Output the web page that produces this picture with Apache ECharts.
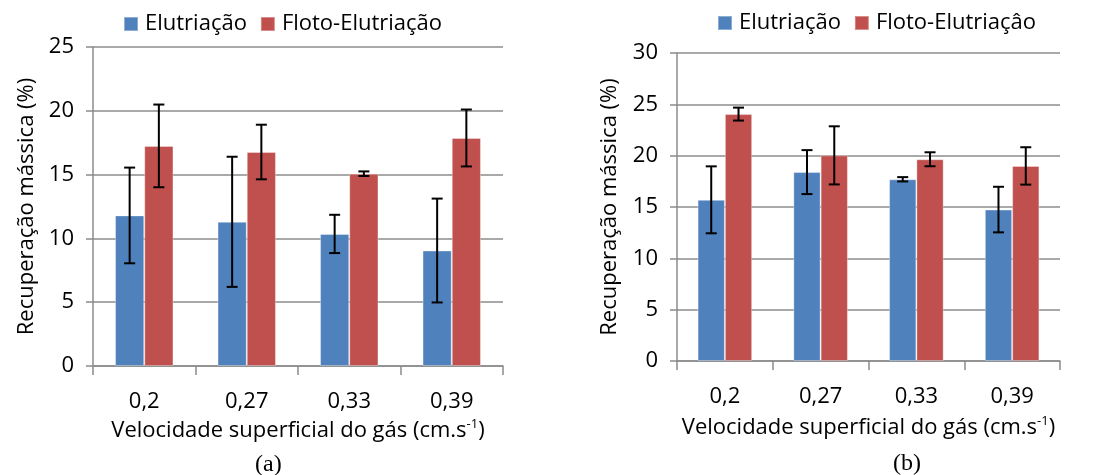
<!DOCTYPE html>
<html><head><meta charset="utf-8">
<script src="https://cdn.jsdelivr.net/npm/echarts@6/dist/echarts.min.js"></script>
<style>html,body{margin:0;padding:0;background:#fff}#c{width:1100px;height:475px}</style>
</head><body><div id="c"></div>
<script>
const categories = ['0,2', '0,27', '0,33', '0,39'];
const elutA = [11.8, 11.3, 10.35, 9.05];
const elutAErr = [3.75, 5.1, 1.5, 4.07];
const flotoA = [17.25, 16.77, 15.07, 17.87];
const flotoAErr = [3.24, 2.14, 0.18, 2.23];
const elutB = [15.7, 18.4, 17.7, 14.75];
const elutBErr = [3.26, 2.14, 0.21, 2.22];
const flotoB = [24.05, 20.03, 19.65, 19.0];
const flotoBErr = [0.63, 2.83, 0.68, 1.82];
const yMaxA = 25, yMaxB = 30, yStep = 5;
const nameElut = 'Elutriação';
const nameFlotoA = 'Floto-Elutriação';
const nameFlotoB = 'Floto-Elutriaçâo';
const xTitle = 'Velocidade superficial do gás (cm.s';
const yTitle = 'Recuperação mássica (%)';

const FONT = 'Open Sans';
const BLUE = '#4F81BD', RED = '#C0504D', GRID = '#8c8c8c';
const CAT_GAP = 0.43;

function errSeries(xi, yi, vals, errs, side) {
  return {
    type: 'custom', xAxisIndex: xi, yAxisIndex: yi, silent: true, z: 10,
    data: vals.map((v, i) => [i, v, errs[i]]),
    encode: { x: 0, y: 1 },
    renderItem: function (params, api) {
      const i = api.value(0), v = api.value(1), e = api.value(2);
      const catW = api.size([1, 0])[0];
      const barW = catW * (1 - CAT_GAP) / 2;
      const top = api.coord([i, v + e]);
      const bot = api.coord([i, v - e]);
      const cx = top[0] + side * barW / 2;
      const cap = 5.5;
      const st = { stroke: '#000', lineWidth: 2 };
      return { type: 'group', children: [
        { type: 'line', shape: { x1: cx, y1: top[1], x2: cx, y2: bot[1] }, style: st },
        { type: 'line', shape: { x1: cx - cap, y1: top[1], x2: cx + cap, y2: top[1] }, style: st },
        { type: 'line', shape: { x1: cx - cap, y1: bot[1], x2: cx + cap, y2: bot[1] }, style: st }
      ]};
    }
  };
}

function xAx(gi, gap) {
  return {
    type: 'category', gridIndex: gi, data: categories,
    axisLine: { lineStyle: { color: GRID, width: 1.5 } },
    axisTick: { show: true, alignWithLabel: false, length: 9, lineStyle: { color: GRID, width: 1.5 } },
    axisLabel: { color: '#000', fontFamily: FONT, fontSize: 22, margin: 25 },
    name: '{t|' + xTitle + '}{s|-1}{t|)}', nameLocation: 'middle', nameGap: gap,
    nameTextStyle: { rich: {
      t: { fontFamily: FONT, fontSize: 22, color: '#000', lineHeight: 26 },
      s: { fontFamily: FONT, fontSize: 13, color: '#000', verticalAlign: 'top', lineHeight: 14 }
    } }
  };
}
function yAx(gi, max, gap) {
  return {
    type: 'value', gridIndex: gi, min: 0, max: max, interval: yStep,
    axisLine: { show: true, lineStyle: { color: GRID, width: 1.5 } },
    axisTick: { show: true, length: 7, lineStyle: { color: GRID, width: 1.5 } },
    splitLine: { lineStyle: { color: GRID, width: 1.5 } },
    axisLabel: { color: '#000', fontFamily: FONT, fontSize: 22, margin: 19 },
    name: yTitle, nameLocation: 'middle', nameGap: gap, nameRotate: 90,
    nameTextStyle: { fontFamily: FONT, fontSize: 22, color: '#000' }
  };
}
function barS(xi, yi, name, data, color) {
  return { type: 'bar', name: name, xAxisIndex: xi, yAxisIndex: yi, data: data,
    barGap: '0%', barCategoryGap: (CAT_GAP * 100) + '%',
    itemStyle: { color: color, borderColor: 'rgba(255,255,255,0.35)', borderWidth: 1 } };
}
const legendCommon = { orient: 'horizontal', itemWidth: 14, itemHeight: 14, itemGap: 13, padding: 0,
  icon: 'rect', textStyle: { fontFamily: FONT, fontSize: 22, color: '#000', padding: [0, 0, 0, 2] } };

const chart = echarts.init(document.getElementById('c'), null, { renderer: 'canvas' });
chart.setOption({
  animation: false,
  backgroundColor: '#fff',
  grid: [
    { left: 93, top: 47, width: 410, height: 319 },
    { left: 677, top: 53, width: 383, height: 308 }
  ],
  legend: [
    Object.assign({ left: 123, top: 13, data: [nameElut, nameFlotoA] }, legendCommon),
    Object.assign({ left: 717, top: 12, data: [nameElut, nameFlotoB] }, legendCommon)
  ],
  xAxis: [xAx(0, 47), xAx(1, 54)],
  yAxis: [yAx(0, yMaxA, 55), yAx(1, yMaxB, 56)],
  series: [
    barS(0, 0, nameElut, elutA, BLUE),
    barS(0, 0, nameFlotoA, flotoA, RED),
    barS(1, 1, nameElut, elutB, BLUE),
    barS(1, 1, nameFlotoB, flotoB, RED),
    errSeries(0, 0, elutA, elutAErr, -1),
    errSeries(0, 0, flotoA, flotoAErr, 1),
    errSeries(1, 1, elutB, elutBErr, -1),
    errSeries(1, 1, flotoB, flotoBErr, 1)
  ],
  graphic: [
    { type: 'text', left: 255, top: 453, style: { text: '(a)', font: '24px "Liberation Serif"', fill: '#000' } },
    { type: 'text', left: 893, top: 452, style: { text: '(b)', font: '24px "Liberation Serif"', fill: '#000' } }
  ]
});
</script></body></html>
